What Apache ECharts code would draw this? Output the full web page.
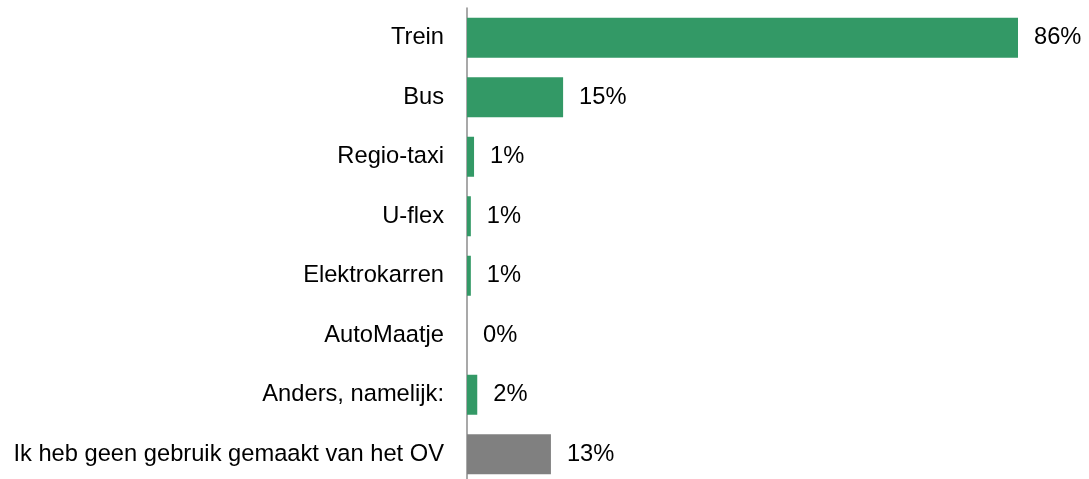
<!DOCTYPE html>
<html>
<head>
<meta charset="utf-8">
<script src="https://cdn.jsdelivr.net/npm/echarts@6/dist/echarts.min.js"></script>
<style>
  html, body { margin: 0; padding: 0; background: #fff; }
  #chart { width: 1089px; height: 479px; }
</style>
</head>
<body>
<div id="chart"></div>
<script>
const categories = [
  "Trein",
  "Bus",
  "Regio-taxi",
  "U-flex",
  "Elektrokarren",
  "AutoMaatje",
  "Anders, namelijk:",
  "Ik heb geen gebruik gemaakt van het OV"
];
const values = [86, 15, 1.1, 0.6, 0.6, 0, 1.6, 13.1];
const barColors = ["#339966", "#339966", "#339966", "#339966", "#339966", "#339966", "#339966", "#808080"];

const chart = echarts.init(document.getElementById("chart"));

const option = {
  animation: false,
  grid: { left: 467, right: 71, top: 8, height: 476, outerBoundsMode: "none" },
  xAxis: {
    type: "value",
    min: 0,
    max: "dataMax",
    show: false
  },
  yAxis: {
    type: "category",
    inverse: true,
    data: categories,
    axisLine: { show: true, lineStyle: { color: "#8c8c8c", width: 1.5 } },
    axisTick: { show: false },
    axisLabel: {
      margin: 23,
      color: "#000",
      fontSize: 23.7,
      fontFamily: "Liberation Sans, Arial, sans-serif"
    }
  },
  series: [
    {
      type: "bar",
      barWidth: 40,
      data: values.map((v, i) => ({ value: v, itemStyle: { color: barColors[i] } })),
      label: {
        show: true,
        position: "right",
        distance: 16,
        color: "#000",
        fontSize: 23.7,
        fontFamily: "Liberation Sans, Arial, sans-serif",
        formatter: p => Math.round(p.value) + "%"
      }
    }
  ]
};
chart.setOption(option);
</script>
</body>
</html>
